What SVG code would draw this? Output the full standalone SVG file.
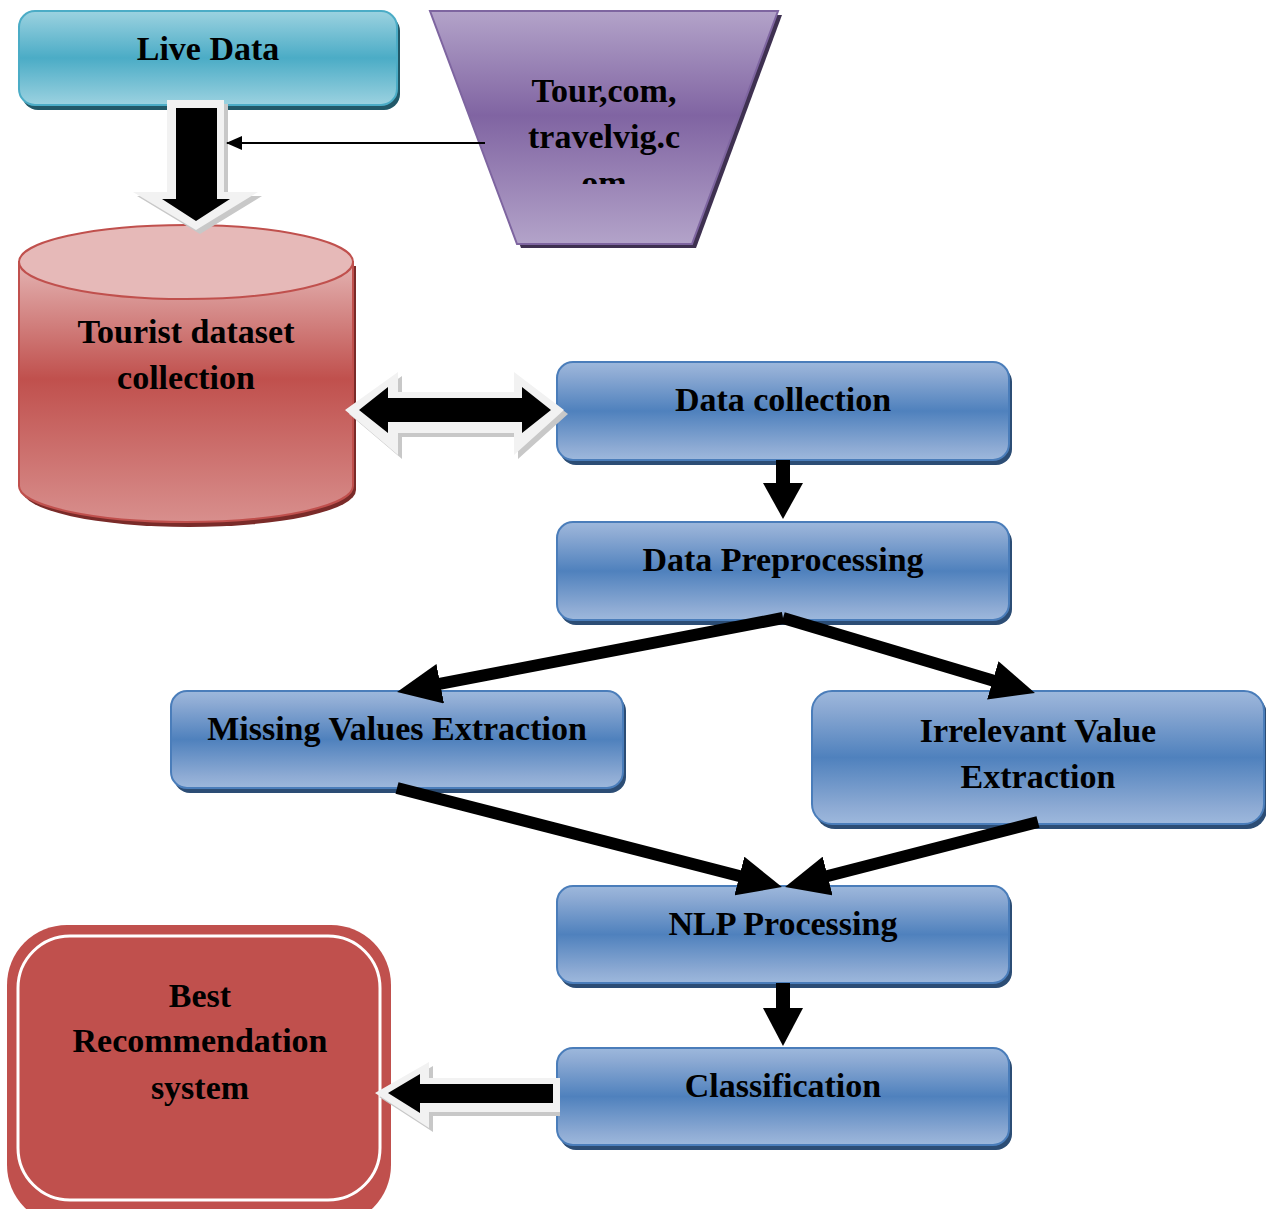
<svg xmlns="http://www.w3.org/2000/svg" width="1266" height="1209" viewBox="0 0 1266 1209">
<defs>
<linearGradient id="gBlue" x1="0" y1="0" x2="0" y2="1">
<stop offset="0" stop-color="#9DB8DC"/><stop offset="0.12" stop-color="#8EABD4"/><stop offset="0.5" stop-color="#4F81BD"/><stop offset="0.88" stop-color="#8EABD4"/><stop offset="1" stop-color="#9DB8DC"/>
</linearGradient>
<linearGradient id="gCyan" x1="0" y1="0" x2="0" y2="1">
<stop offset="0" stop-color="#9CD2E0"/><stop offset="0.5" stop-color="#4BACC6"/><stop offset="1" stop-color="#9CD2E0"/>
</linearGradient>
<linearGradient id="gPurple" x1="0" y1="0" x2="0" y2="1">
<stop offset="0" stop-color="#B3A3C9"/><stop offset="0.45" stop-color="#8064A2"/><stop offset="1" stop-color="#B3A3C9"/>
</linearGradient>
<linearGradient id="gRed" x1="0" y1="0" x2="0" y2="1">
<stop offset="0" stop-color="#E4B4B3"/><stop offset="0.45" stop-color="#C0504D"/><stop offset="1" stop-color="#D88F8D"/>
</linearGradient>
<marker id="thin" markerWidth="16" markerHeight="14" refX="15" refY="7" orient="auto" markerUnits="userSpaceOnUse" viewBox="0 0 16 14">
<path d="M0,0 L16,7 L0,14 Z" fill="#000"/>
</marker>
<marker id="fat" markerWidth="44" markerHeight="40" refX="14" refY="20" orient="auto" markerUnits="userSpaceOnUse" viewBox="0 0 44 40">
<path d="M0,0 L44,20 L0,40 Z" fill="#000"/>
</marker>
<style>
.t{font-family:"Liberation Serif","Times New Roman",serif;font-weight:bold;font-size:34px;fill:#000;text-anchor:middle}
.blue{fill:url(#gBlue);stroke:#4A7DBA;stroke-width:2}
.bshadow{fill:#2C4D75}
.fat{stroke:#000;stroke-width:12;fill:none;marker-end:url(#fat)}
</style>
<clipPath id="trapClip"><rect x="420" y="0" width="400" height="184"/></clipPath>
</defs>

<g id="live-data">
<rect x="22" y="15" width="378" height="95" rx="16" fill="#215868"/>
<rect x="19" y="11" width="378" height="94" rx="16" fill="url(#gCyan)" stroke="#4BACC6" stroke-width="2"/>
<text class="t" x="208" y="60">Live Data</text>
</g>

<g id="sources">
<polygon points="434,15 782,15 696,248 521,248" fill="#3F3151"/>
<polygon points="430,11 778,11 692,244 517,244" fill="url(#gPurple)" stroke="#7E65A0" stroke-width="2"/>
<g clip-path="url(#trapClip)">
<text class="t" x="604" y="102">Tour,com,</text>
<text class="t" x="604" y="148">travelvig.c</text>
<text class="t" x="604" y="194">om</text>
</g>
</g>

<g id="tourist-dataset">
<path d="M22,266 L22,490 A167,37 0 0 0 356,490 L356,266 Z" fill="#7A2B29"/>
<path d="M19,262 L19,486 A167,36 0 0 0 353,486 L353,262 Z" fill="url(#gRed)" stroke="#C0504D" stroke-width="2"/>
<ellipse cx="186" cy="262" rx="167" ry="37" fill="#E6B9B8" stroke="#C0504D" stroke-width="2"/>
<text class="t" x="186" y="343">Tourist dataset</text>
<text class="t" x="186" y="389">collection</text>
</g>

<g id="data-collection">
<rect x="560" y="366" width="452" height="99" rx="16" class="bshadow"/>
<rect x="557" y="362" width="452" height="98" rx="16" class="blue"/>
<text class="t" x="783" y="411">Data collection</text>
</g>

<g id="data-preprocessing">
<rect x="560" y="526" width="452" height="99" rx="16" class="bshadow"/>
<rect x="557" y="522" width="452" height="98" rx="16" class="blue"/>
<text class="t" x="783" y="571">Data Preprocessing</text>
</g>

<g id="missing-values">
<rect x="174" y="695" width="452" height="98" rx="16" class="bshadow"/>
<rect x="171" y="691" width="452" height="97" rx="16" class="blue"/>
<text class="t" x="397" y="740">Missing Values Extraction</text>
</g>

<g id="irrelevant-value">
<rect x="815" y="695" width="452" height="134" rx="20" class="bshadow"/>
<rect x="812" y="691" width="452" height="133" rx="20" class="blue"/>
<text class="t" x="1038" y="742">Irrelevant Value</text>
<text class="t" x="1038" y="788">Extraction</text>
</g>

<g id="nlp-processing">
<rect x="560" y="890" width="452" height="98" rx="16" class="bshadow"/>
<rect x="557" y="886" width="452" height="97" rx="16" class="blue"/>
<text class="t" x="783" y="935">NLP Processing</text>
</g>

<g id="classification">
<rect x="560" y="1052" width="452" height="98" rx="16" class="bshadow"/>
<rect x="557" y="1048" width="452" height="97" rx="16" class="blue"/>
<text class="t" x="783" y="1097">Classification</text>
</g>

<g id="best-recommendation">
<rect x="7" y="925" width="384" height="300" rx="60" fill="#C0504D"/>
<rect x="18" y="936" width="362" height="264" rx="52" fill="#C0504D" stroke="#FFFFFF" stroke-width="3"/>
<text class="t" x="200" y="1007">Best</text>
<text class="t" x="200" y="1052">Recommendation</text>
<text class="t" x="200" y="1099">system</text>
</g>

<g id="connectors">
<!-- Live Data -> dataset block arrow -->
<polygon points="171,104 228,104 228,196 262,196 200,234 137,196 171,196" fill="#C8C8C8"/>
<polygon points="167,100 224,100 224,192 258,192 196,230 133,192 167,192" fill="#F2F2F2"/>
<polygon points="176,108 217,108 217,199 230,199 196,221 162,199 176,199" fill="#000"/>
<!-- thin arrow from sources -->
<line x1="485" y1="143" x2="227" y2="143" stroke="#000" stroke-width="2" marker-end="url(#thin)"/>
<!-- double arrow dataset <-> data collection -->
<polygon points="349,414 402,376 402,396 518,396 518,376 568,414 518,459 518,437 402,437 402,459" fill="#C8C8C8"/>
<polygon points="345,410 398,372 398,392 514,392 514,372 564,410 514,455 514,433 398,433 398,455" fill="#F2F2F2"/>
<polygon points="359,410 388,387 388,398 522,398 522,387 551,410 522,433 522,422 388,422 388,433" fill="#000"/>
<!-- data collection -> preprocessing -->
<rect x="776" y="460" width="14" height="25" fill="#000"/>
<polygon points="763,483 803,483 783,519" fill="#000"/>
<!-- preprocessing -> missing / irrelevant -->
<line x1="783" y1="618" x2="426.5" y2="686.4" class="fat"/>
<line x1="783" y1="618" x2="1006.2" y2="684.4" class="fat"/>
<!-- missing / irrelevant -> NLP -->
<line x1="397" y1="788" x2="752.9" y2="879.5" class="fat"/>
<line x1="1038" y1="822" x2="814.1" y2="879.5" class="fat"/>
<!-- NLP -> classification -->
<rect x="776" y="983" width="14" height="27" fill="#000"/>
<polygon points="763,1008 803,1008 783,1046" fill="#000"/>
<!-- classification -> best block arrow -->
<polygon points="560,1082 433,1082 433,1066 379,1097 433,1132 433,1116 560,1116" fill="#C8C8C8"/>
<polygon points="560,1078 429,1078 429,1062 375,1093 429,1128 429,1112 560,1112" fill="#F2F2F2"/>
<polygon points="553,1084 420,1084 420,1074 388,1093 420,1113 420,1103 553,1103" fill="#000"/>
</g>
</svg>
